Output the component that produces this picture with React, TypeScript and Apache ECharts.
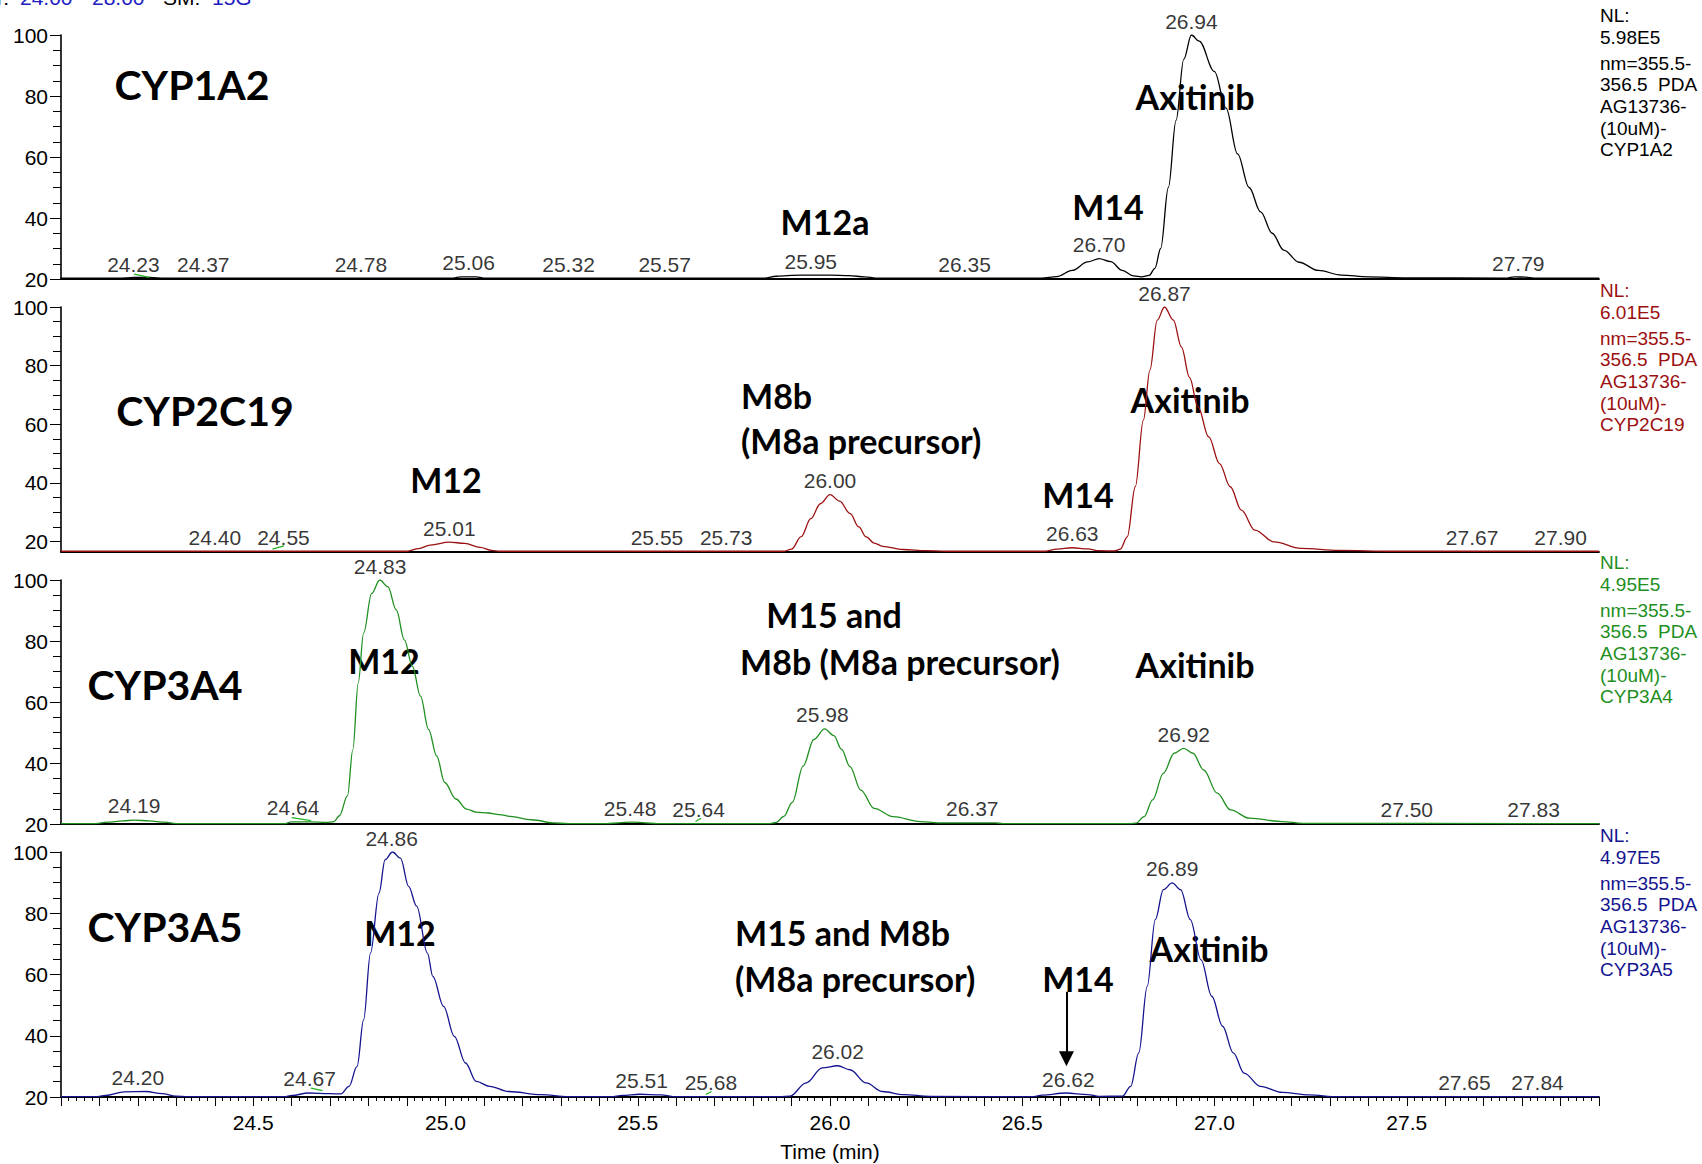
import React, { useEffect, useRef } from "react";
import * as echarts from "echarts";

// ---------- DATA ----------
const panelNames = ["CYP1A2", "CYP2C19", "CYP3A4", "CYP3A5"];
const panelColors = ["#000000", "#9b1010", "#1f8f1f", "#14148f"];
const nlValues = ["5.98E5", "6.01E5", "4.95E5", "4.97E5"];
const yMins = [20, 16.45, 20, 20];
const yMajorTicks = [20, 40, 60, 80, 100];
const yMinorTicks = [25, 30, 35, 45, 50, 55, 65, 70, 75, 85, 90, 95];
const xLabelValues = [24.5, 25.0, 25.5, 26.0, 26.5, 27.0, 27.5];

const traceCYP1A2 = [
  [24.0, 20.3], [24.15, 20.3], [24.19, 20.5], [24.23, 20.5], [24.27, 20.3],
  [25.02, 20.3], [25.04, 20.7], [25.08, 20.7], [25.1, 20.3],
  [25.83, 20.3], [25.86, 20.9], [25.9, 21.2], [25.95, 21.3], [26.0, 21.3], [26.05, 21.1], [26.09, 20.7], [26.12, 20.3],
  [26.55, 20.3], [26.59, 20.8], [26.63, 22.8], [26.67, 25.6], [26.7, 26.7], [26.73, 25.7], [26.76, 22.8], [26.79, 21.0],
  [26.81, 20.7], [26.83, 21.2], [26.845, 23.5], [26.86, 30], [26.88, 50], [26.9, 72], [26.92, 92], [26.94, 100],
  [26.96, 98], [27.0, 88], [27.03, 76], [27.06, 61], [27.09, 50], [27.12, 42], [27.15, 35], [27.18, 29.5],
  [27.22, 25.5], [27.27, 22.8], [27.33, 21.3], [27.4, 20.7], [27.5, 20.4], [27.76, 20.3], [27.78, 20.7],
  [27.81, 20.6], [27.83, 20.3], [28.0, 20.3],
];
const traceCYP2C19 = [
  [24.0, 16.7], [24.9, 16.7], [24.93, 17.6], [24.96, 18.8], [25.01, 19.8], [25.05, 19.4], [25.09, 18.0], [25.12, 17.0], [25.14, 16.7],
  [25.88, 16.7], [25.9, 17.4], [25.925, 21.7], [25.95, 27.8], [25.975, 32.9], [26.0, 36.0], [26.025, 33.8],
  [26.052, 29.6], [26.075, 25], [26.094, 21.6], [26.115, 19.5], [26.137, 18.4], [26.19, 17.3], [26.25, 16.9], [26.3, 16.7],
  [26.56, 16.7], [26.59, 17.4], [26.63, 17.9], [26.67, 17.5], [26.7, 16.9], [26.74, 16.8], [26.755, 17.4],
  [26.773, 21.6], [26.794, 38.7], [26.815, 61.4], [26.832, 78.5], [26.851, 95.5], [26.87, 100], [26.893, 95.5],
  [26.914, 86.4], [26.935, 76], [26.957, 66], [26.985, 55.7], [27.013, 46.6], [27.041, 38.7], [27.07, 30.7],
  [27.105, 23.9], [27.155, 19.9], [27.225, 17.7], [27.324, 17.0], [27.466, 16.7], [28.0, 16.7],
];
const traceCYP3A4 = [
  [24.0, 20.1], [24.09, 20.1], [24.12, 20.6], [24.16, 21.0], [24.19, 21.3], [24.23, 21.0], [24.27, 20.6], [24.3, 20.1],
  [24.58, 20.1], [24.6, 20.7], [24.65, 20.7], [24.69, 20.5], [24.71, 20.8], [24.724, 22.7], [24.745, 29.2],
  [24.759, 44.4], [24.773, 66.2], [24.787, 82.6], [24.808, 95.6], [24.829, 100], [24.85, 97.8], [24.872, 90.2],
  [24.893, 80.4], [24.914, 71.7], [24.935, 61.9], [24.956, 51], [24.977, 42.3], [24.998, 33.6], [25.027, 28.2],
  [25.055, 24.9], [25.08, 23.9], [25.111, 23.6], [25.14, 23.1], [25.168, 22.5], [25.224, 21.4], [25.281, 20.4], [25.32, 20.1],
  [25.42, 20.1], [25.45, 20.4], [25.485, 20.6], [25.52, 20.4], [25.55, 20.1],
  [25.84, 20.1], [25.86, 20.5], [25.88, 22.5], [25.902, 27.1], [25.93, 39], [25.958, 47.7], [25.986, 51.2],
  [26.01, 49], [26.03, 44.5], [26.052, 38.8], [26.08, 31.1], [26.115, 25.1], [26.164, 22.4], [26.235, 20.8],
  [26.28, 20.4], [26.43, 20.4], [26.45, 20.1],
  [26.78, 20.1], [26.796, 20.3], [26.817, 22.4], [26.839, 27.9], [26.867, 36.6], [26.895, 43.2], [26.92, 44.8],
  [26.944, 43.2], [26.972, 37.7], [27.007, 30.1], [27.042, 24.6], [27.091, 21.9], [27.176, 20.8], [27.23, 20.2], [28.0, 20.1],
];
const traceCYP3A5 = [
  [24.0, 20.1], [24.09, 20.1], [24.116, 20.5], [24.165, 21.7], [24.221, 21.8], [24.263, 21.1], [24.299, 20.3], [24.33, 20.1],
  [24.58, 20.1], [24.601, 20.5], [24.643, 21.3], [24.7, 21.1], [24.728, 21.0], [24.749, 23.5], [24.77, 30],
  [24.787, 45.2], [24.805, 67], [24.827, 86.6], [24.843, 97.5], [24.862, 100], [24.883, 98], [24.904, 88.8],
  [24.925, 82.3], [24.953, 67], [24.967, 59.4], [24.995, 49.6], [25.023, 39.8], [25.052, 31.1], [25.08, 25.1],
  [25.115, 23.5], [25.164, 21.8], [25.249, 20.8], [25.319, 20.1],
  [25.43, 20.1], [25.46, 20.5], [25.505, 20.9], [25.56, 20.7], [25.6, 20.1],
  [25.87, 20.1], [25.896, 20.3], [25.938, 24.6], [25.98, 29.5], [26.02, 30.2], [26.052, 28.9], [26.094, 24.6],
  [26.136, 21.8], [26.192, 20.8], [26.26, 20.2],
  [26.53, 20.1], [26.551, 20.6], [26.614, 21.3], [26.67, 20.8], [26.7, 20.2], [26.761, 20.3], [26.782, 23.5],
  [26.803, 34.4], [26.825, 56.1], [26.846, 77.9], [26.867, 87.7], [26.89, 89.9], [26.912, 87.7], [26.937, 77.9],
  [26.965, 64.8], [26.993, 52.9], [27.021, 43.1], [27.049, 34.4], [27.077, 27.8], [27.119, 23.5], [27.176, 21.5],
  [27.246, 20.7], [27.32, 20.1], [28.0, 20.1],
];

// peak labels: [retention time, trace level under the label]
const peaksCYP1A2 = [
  [24.23, 20.3], [24.37, 20.3], [24.78, 20.3], [25.06, 20.7], [25.32, 20.3], [25.57, 20.3],
  [25.95, 21.3], [26.35, 20.3], [26.7, 26.7], [26.94, 100], [27.79, 20.6],
];
const peaksCYP2C19 = [
  [24.4, 16.7], [24.55, 16.7], [25.01, 19.8], [25.55, 16.7], [25.73, 16.7], [26.0, 36.0],
  [26.63, 17.9], [26.87, 100], [27.67, 16.7], [27.9, 16.7],
];
const peaksCYP3A4 = [
  [24.19, 21.4], [24.64, 20.8], [24.83, 100], [25.48, 20.6], [25.64, 20.2], [25.98, 51.3],
  [26.37, 20.4], [26.92, 44.9], [27.5, 20.2], [27.83, 20.2],
];
const peaksCYP3A5 = [
  [24.2, 21.8], [24.67, 21.4], [24.86, 100], [25.51, 20.9], [25.68, 20.3], [26.02, 30.2],
  [26.62, 21.3], [26.89, 89.9], [27.65, 20.3], [27.84, 20.3],
];

// small green peak-pick marks: [[t1, v1], [t2, v2]]
const marksCYP1A2 = [[[24.19, 21.6], [24.23, 20.5]]];
const marksCYP2C19 = [[[24.55, 17.4], [24.58, 18.5]]];
const marksCYP3A4 = [[[24.6, 22.1], [24.65, 21.1]], [[25.65, 20.8], [25.665, 21.9]]];
const marksCYP3A5 = [[[24.65, 22.9], [24.68, 22.1]], [[25.677, 20.8], [25.692, 21.8]]];

const traces = [traceCYP1A2, traceCYP2C19, traceCYP3A4, traceCYP3A5];
const peaks = [peaksCYP1A2, peaksCYP2C19, peaksCYP3A4, peaksCYP3A5];
const marks = [marksCYP1A2, marksCYP2C19, marksCYP3A4, marksCYP3A5];

// M14 arrow in CYP3A5 panel (time, from level, to level)
const arrowM14 = [26.615, 54.4, 32.5];

// ---------- LAYOUT / STYLE ----------
const SMALL = "'Liberation Sans', Arial, sans-serif";
const BIG = "Lato, 'Open Sans', sans-serif";
const gridTops = [35, 307, 580, 852];
const gridHeights = [244, 245, 244, 245];

// horizontal nudges (px) of crowded peak labels, keyed "panel:rt"
const labelNudge: Record<string, number> = {
  "0:24.23": -16,
  "1:24.55": 11,
  "2:24.64": -14,
  "2:25.64": 7,
  "3:24.67": -9,
  "3:25.68": 4,
};

type Ann = { t: string; x: number; y: number; size: number; align?: string };
const annotations: Ann[] = [
  { t: "CYP1A2", x: 192, y: 84, size: 41 },
  { t: "M12a", x: 825, y: 221, size: 34 },
  { t: "M14", x: 1108, y: 206, size: 34 },
  { t: "Axitinib", x: 1195, y: 96, size: 34 },
  { t: "CYP2C19", x: 205, y: 410, size: 41 },
  { t: "M12", x: 446, y: 479, size: 34 },
  { t: "M8b", x: 741, y: 395, size: 34, align: "left" },
  { t: "(M8a precursor)", x: 741, y: 440, size: 34, align: "left" },
  { t: "M14", x: 1078, y: 494, size: 34 },
  { t: "Axitinib", x: 1190, y: 399, size: 34 },
  { t: "CYP3A4", x: 165, y: 684, size: 41 },
  { t: "M12", x: 384, y: 660, size: 34 },
  { t: "M15 and", x: 834, y: 614, size: 34 },
  { t: "M8b (M8a precursor)", x: 900, y: 661, size: 34 },
  { t: "Axitinib", x: 1195, y: 664, size: 34 },
  { t: "CYP3A5", x: 165, y: 926, size: 41 },
  { t: "M12", x: 400, y: 932, size: 34 },
  { t: "M15 and M8b", x: 735, y: 932, size: 34, align: "left" },
  { t: "(M8a precursor)", x: 735, y: 978, size: 34, align: "left" },
  { t: "M14", x: 1078, y: 978, size: 34 },
  { t: "Axitinib", x: 1209, y: 948, size: 34 },
];

const nlFirstY = [15, 290, 562, 835];
const nlOffsets = [0, 22, 48, 69.5, 91, 113, 134];

export default function App() {
  const ref = useRef<HTMLDivElement>(null);
  useEffect(() => {
    if (!ref.current) return;
    const chart = echarts.init(ref.current, undefined, { renderer: "svg" });

    const grid = gridTops.map((t, i) => ({ left: 61, right: 103, top: t, height: gridHeights[i] }));

    const xAxis = gridTops.map((_, i) => {
      const last = i === 3;
      return {
        type: "value",
        gridIndex: i,
        min: 24,
        max: 28,
        interval: 0.1,
        axisLine: { show: true, onZero: false, lineStyle: { color: "#000", width: 1.8 } },
        axisTick: { show: last, length: 9, lineStyle: { color: "#000", width: 1 } },
        minorTick: { show: last, splitNumber: 5, length: 4, lineStyle: { color: "#000", width: 1 } },
        axisLabel: {
          show: last,
          customValues: xLabelValues,
          formatter: (v: number) => v.toFixed(1),
          fontSize: 21,
          color: "#000",
          fontFamily: SMALL,
          margin: 15,
        },
        splitLine: { show: false },
        minorSplitLine: { show: false },
        name: last ? "Time (min)" : "",
        nameLocation: "middle",
        nameGap: 44,
        nameTextStyle: { fontSize: 21, color: "#000", fontFamily: SMALL },
      };
    });

    const yAxis: any[] = [];
    gridTops.forEach((_, i) => {
      yAxis.push({
        type: "value",
        gridIndex: i,
        position: "left",
        min: yMins[i],
        max: 100,
        axisLine: { show: true, onZero: false, lineStyle: { color: "#000", width: 1.6 } },
        axisTick: { show: true, customValues: yMajorTicks, length: 11, lineStyle: { color: "#000", width: 1 } },
        axisLabel: { show: true, customValues: yMajorTicks, fontSize: 21, color: "#000", fontFamily: SMALL, margin: 13 },
        splitLine: { show: false },
      });
      yAxis.push({
        type: "value",
        gridIndex: i,
        position: "left",
        min: yMins[i],
        max: 100,
        axisLine: { show: false },
        axisTick: { show: true, customValues: yMinorTicks, length: 8, lineStyle: { color: "#000", width: 1 } },
        axisLabel: { show: false },
        splitLine: { show: false },
      });
    });

    const series: any[] = [];
    traces.forEach((tr, i) => {
      const s: any = {
        type: "line",
        xAxisIndex: i,
        yAxisIndex: 2 * i,
        data: tr,
        symbol: "none",
        showSymbol: false,
        smooth: 0.35,
        smoothMonotone: "x",
        lineStyle: { color: panelColors[i], width: 1.3 },
        silent: true,
        z: 3,
      };
      if (i === 3) {
        s.markLine = {
          silent: true,
          symbol: ["none", "triangle"],
          symbolSize: 15,
          label: { show: false },
          lineStyle: { color: "#000", width: 2, type: "solid" },
          data: [[{ coord: [arrowM14[0], arrowM14[1]] }, { coord: [arrowM14[0], arrowM14[2]] }]],
        };
      }
      series.push(s);
      // green peak-pick marks
      series.push({
        type: "line",
        xAxisIndex: i,
        yAxisIndex: 2 * i,
        data: [],
        silent: true,
        markLine: {
          silent: true,
          symbol: ["none", "none"],
          label: { show: false },
          lineStyle: { color: "#22b422", width: 1.3, type: "solid" },
          data: marks[i].map((m) => [{ coord: m[0] }, { coord: m[1] }]),
        },
      });
      series.push({
        type: "scatter",
        xAxisIndex: i,
        yAxisIndex: 2 * i,
        data: peaks[i].map((p) => {
          const nudge = labelNudge[`${i}:${p[0].toFixed(2)}`];
          return nudge ? { value: p, label: { offset: [nudge, 0] } } : { value: p };
        }),
        symbolSize: 1,
        itemStyle: { color: "rgba(0,0,0,0)" },
        silent: true,
        label: {
          show: true,
          position: "top",
          distance: 3,
          formatter: (p: any) => Number(p.value[0]).toFixed(2),
          fontSize: 21,
          color: "#000",
          fontFamily: SMALL,
        },
      });
    });

    const graphic: any[] = [];
    annotations.forEach((a) => {
      graphic.push({
        type: "text",
        x: a.x,
        y: a.y,
        silent: true,
        style: {
          text: a.t,
          font: `bold ${a.size}px ${BIG}`,
          fill: "#000",
          textAlign: a.align || "center",
          textVerticalAlign: "middle",
        },
      });
    });
    panelNames.forEach((name, i) => {
      const lines = ["NL:", nlValues[i], "nm=355.5-", "356.5 \u00a0PDA", "AG13736-", "(10uM)-", name];
      lines.forEach((ln, k) => {
        graphic.push({
          type: "text",
          x: 1600,
          y: nlFirstY[i] + nlOffsets[k],
          silent: true,
          style: {
            text: ln,
            font: `19px ${SMALL}`,
            fill: panelColors[i],
            textAlign: "left",
            textVerticalAlign: "middle",
          },
        });
      });
    });
    const header = [
      { t: "RT:", x: 9, c: "#000", a: "right" },
      { t: "24.00", x: 20, c: "#2020c0", a: "left" },
      { t: "-", x: 78, c: "#2020c0", a: "left" },
      { t: "28.00", x: 92, c: "#2020c0", a: "left" },
      { t: "SM:", x: 163, c: "#000", a: "left" },
      { t: "15G", x: 212, c: "#2020c0", a: "left" },
    ];
    header.forEach((h) =>
      graphic.push({
        type: "text",
        x: h.x,
        y: 8,
        silent: true,
        style: { text: h.t, font: `21px ${SMALL}`, fill: h.c, textAlign: h.a, textVerticalAlign: "bottom" },
      })
    );

    chart.setOption({
      animation: false,
      backgroundColor: "#fff",
      grid,
      xAxis,
      yAxis,
      series,
      graphic,
    });
    return () => chart.dispose();
  }, []);
  return (
    <div
      ref={ref}
      style={{ position: "absolute", left: 0, top: 0, width: 1702, height: 1164, background: "#fff" }}
    />
  );
}
